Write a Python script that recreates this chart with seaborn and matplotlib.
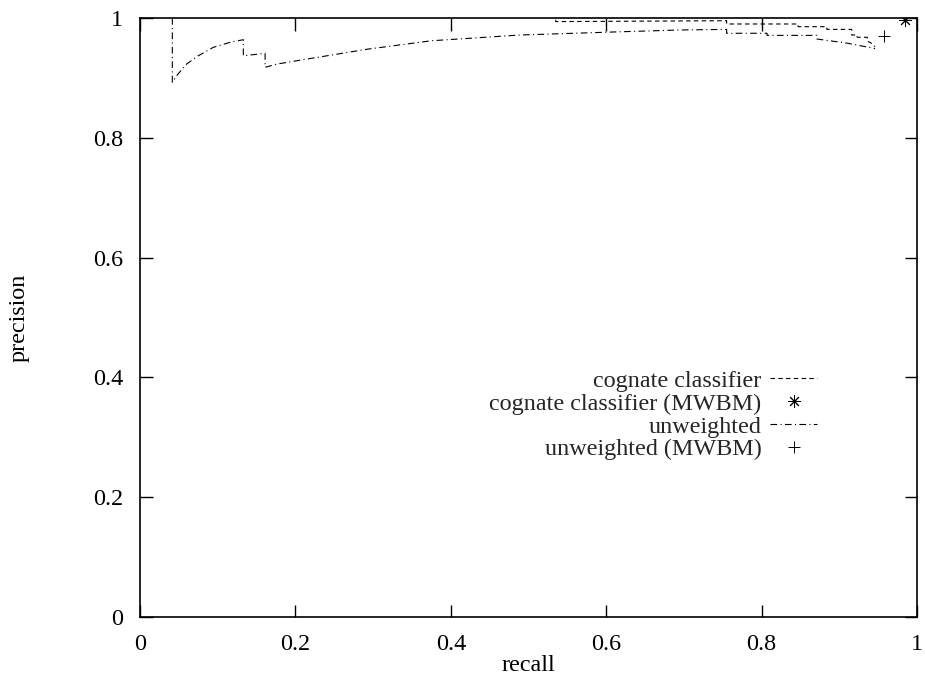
import matplotlib
matplotlib.use("Agg")
import matplotlib.pyplot as plt
import seaborn as sns
import pandas as pd

# ------------------------------------------------------------------
# data
# ------------------------------------------------------------------
cog_recall = [0.535, 0.535, 0.755, 0.755, 0.847, 0.847, 0.884, 0.884,
              0.916, 0.916, 0.923, 0.923, 0.936, 0.936, 0.943, 0.946]
cog_precision = [0.997, 0.994, 0.9955, 0.990, 0.990, 0.9855, 0.9855, 0.981,
                 0.981, 0.9716, 0.9716, 0.9678, 0.9678, 0.9616, 0.9566, 0.952]

unw_recall = [0.0416, 0.0416, 0.0472, 0.0601, 0.075, 0.0943, 0.1158, 0.133,
              0.133, 0.161, 0.161, 0.176, 0.208, 0.293, 0.375, 0.489,
              0.618, 0.695, 0.755, 0.755, 0.807, 0.807, 0.871, 0.871,
              0.91, 0.946]
unw_precision = [1.0, 0.8927, 0.9037, 0.9232, 0.937, 0.951, 0.9594, 0.9638,
                 0.937, 0.941, 0.9177, 0.923, 0.930, 0.948, 0.962, 0.9716,
                 0.977, 0.980, 0.981, 0.9745, 0.9745, 0.971, 0.971, 0.965,
                 0.958, 0.949]

mwbm_labels = ["cognate classifier (MWBM)", "unweighted (MWBM)"]
mwbm_recall = [0.985, 0.957]
mwbm_precision = [0.997, 0.970]

ticks = [0, 0.2, 0.4, 0.6, 0.8, 1]
tick_labels = ["0", "0.2", "0.4", "0.6", "0.8", "1"]

# ------------------------------------------------------------------
# style
# ------------------------------------------------------------------
sns.set_theme(style="ticks")
plt.rcParams["font.family"] = ["Liberation Serif", "DejaVu Serif"]
FS = 17.4

fig = plt.figure(figsize=(9.25, 6.79), dpi=100)
ax = fig.add_axes([140 / 925, 62 / 679, 777 / 925, 599 / 679])

df_cog = pd.DataFrame({"recall": cog_recall, "precision": cog_precision})
df_unw = pd.DataFrame({"recall": unw_recall, "precision": unw_precision})

sns.lineplot(data=df_cog, x="recall", y="precision", sort=False, estimator=None,
             color="black", lw=0.8, linestyle=(0, (4, 3)), ax=ax,
             label="cognate classifier")
ax.plot(mwbm_recall[:1], mwbm_precision[:1], marker=(8, 2, 0), markersize=9,
        markeredgewidth=0.7, color="black", linestyle="none",
        label=mwbm_labels[0])
sns.lineplot(data=df_unw, x="recall", y="precision", sort=False, estimator=None,
             color="black", lw=0.8, linestyle=(0, (6, 3, 1, 3)), ax=ax,
             label="unweighted")
ax.plot(mwbm_recall[1:], mwbm_precision[1:], marker="+", markersize=9,
        markeredgewidth=0.7, color="black", linestyle="none",
        label=mwbm_labels[1])

ax.set_xlim(0, 1)
ax.set_ylim(0, 1)
ax.set_xticks(ticks)
ax.set_xticklabels(tick_labels)
ax.set_yticks(ticks)
ax.set_yticklabels(tick_labels)
ax.tick_params(direction="in", length=9, width=1, top=True, right=True,
               labelsize=FS, color="black", labelcolor="black")
ax.tick_params(axis="x", pad=12)
ax.tick_params(axis="y", pad=12)
for sp in ax.spines.values():
    sp.set_visible(True)
    sp.set_linewidth(1.2)
    sp.set_color("black")
ax.grid(False)

ax.set_xlabel("recall", fontsize=FS, labelpad=0, color="black")
ax.set_ylabel("precision", fontsize=FS, labelpad=46, color="black")

leg = ax.legend(loc="center right", bbox_to_anchor=(0.887, 0.337),
                frameon=False, markerfirst=False, fontsize=FS,
                handlelength=1.95, handletextpad=0.35, labelspacing=0.04,
                borderpad=0)
for col in leg._legend_handle_box.get_children():
    col.align = "right"

fig.savefig("out.png", dpi=100)
